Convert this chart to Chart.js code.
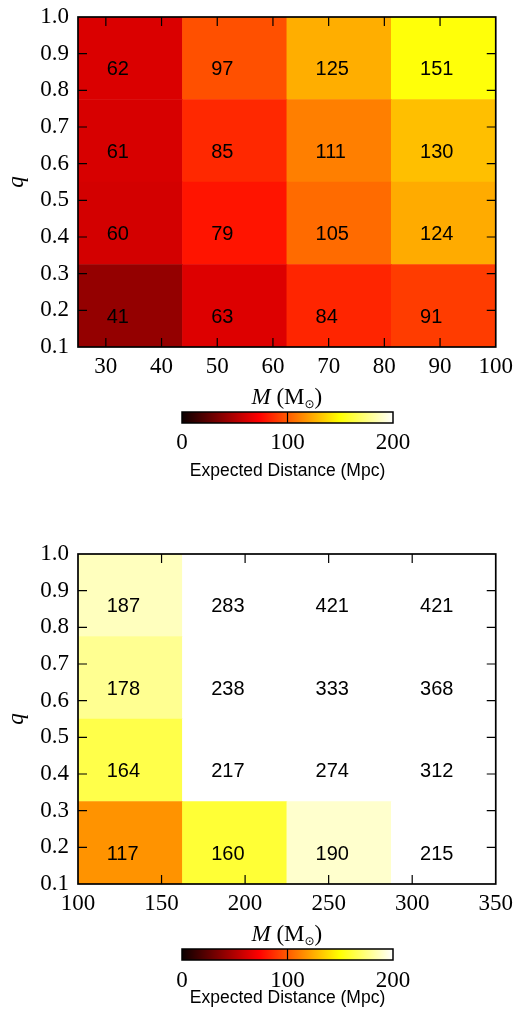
<!DOCTYPE html>
<html><head><meta charset="utf-8">
<script src="https://cdn.jsdelivr.net/npm/chart.js@4.4.0/dist/chart.umd.min.js"></script>
<style>
html,body{margin:0;padding:0;background:#fff;}
#wrap{position:relative;width:519px;height:1015px;overflow:hidden;background:#fff;}
canvas{position:absolute;left:0;}
</style></head><body>
<div id="wrap">
<canvas id="topMap" width="519" height="410" style="top:0px"></canvas>
<canvas id="topBar" width="519" height="83" style="top:400px"></canvas>
<canvas id="botMap" width="519" height="410" style="top:537px"></canvas>
<canvas id="botBar" width="519" height="72" style="top:937px"></canvas>
</div>
<script>
// ---- data ----
const qEdges = [0.1, 0.325, 0.55, 0.775, 1.0];
const qTicks = [0.1, 0.2, 0.3, 0.4, 0.5, 0.6, 0.7, 0.8, 0.9, 1.0];

const topMassEdges = [25, 43.75, 62.5, 81.25, 100];
const topMassTicks = [30, 40, 50, 60, 70, 80, 90, 100];
const topDistQ1 = [41, 63, 84, 91];
const topDistQ2 = [60, 79, 105, 124];
const topDistQ3 = [61, 85, 111, 130];
const topDistQ4 = [62, 97, 125, 151];

const botMassEdges = [100, 162.5, 225, 287.5, 350];
const botMassTicks = [100, 150, 200, 250, 300, 350];
const botDistQ1 = [117, 160, 190, 215];
const botDistQ2 = [164, 217, 274, 312];
const botDistQ3 = [178, 238, 333, 368];
const botDistQ4 = [187, 283, 421, 421];

const cbRange = [0, 200];
const cbTicks = [0, 100, 200];

// ---- colormap (matplotlib "hot") ----
const hotStops = [[0, [0.0416, 0, 0]], [0.365079, [1, 0, 0]], [0.746032, [1, 1, 0]], [1, [1, 1, 1]]];
function hotRGB(t) {
  t = Math.max(0, Math.min(1, t));
  for (let i = 1; i < hotStops.length; i++) {
    const [t0, c0] = hotStops[i - 1], [t1, c1] = hotStops[i];
    if (t <= t1) {
      const f = (t - t0) / (t1 - t0);
      return c0.map((c, k) => Math.round(255 * (c + (c1[k] - c) * f)));
    }
  }
  return [255, 255, 255];
}
function hotColor(v) {
  const [r, g, b] = hotRGB((v - cbRange[0]) / (cbRange[1] - cbRange[0]));
  return `rgb(${r},${g},${b})`;
}

const SERIF = '"Liberation Serif", "DejaVu Serif", serif';
const SANS = '"Liberation Sans", Arial, sans-serif';

// frame + inward ticks
const framePlugin = {
  id: 'frame',
  afterDraw(chart, args, opts) {
    const {ctx, chartArea: a} = chart;
    ctx.save();
    ctx.strokeStyle = '#000';
    if (opts.ticksX) {
      const sx = chart.scales[opts.xScale];
      ctx.lineWidth = 1.2;
      ctx.beginPath();
      opts.ticksX.forEach(v => {
        const px = sx.getPixelForValue(v);
        if (px <= a.left + 1 || px >= a.right - 1) return;
        if (opts.full) { ctx.moveTo(px, a.top); ctx.lineTo(px, a.bottom); }
        else {
          ctx.moveTo(px, a.bottom); ctx.lineTo(px, a.bottom - 9);
          ctx.moveTo(px, a.top); ctx.lineTo(px, a.top + 9);
        }
      });
      ctx.stroke();
    }
    if (opts.ticksY) {
      const sy = chart.scales.y;
      ctx.lineWidth = 1.2;
      ctx.beginPath();
      opts.ticksY.forEach(v => {
        const py = sy.getPixelForValue(v);
        if (py <= a.top + 1 || py >= a.bottom - 1) return;
        ctx.moveTo(a.left, py); ctx.lineTo(a.left + 9, py);
        ctx.moveTo(a.right, py); ctx.lineTo(a.right - 9, py);
      });
      ctx.stroke();
    }
    ctx.lineWidth = opts.lw || 1.7;
    ctx.strokeRect(a.left, a.top, a.right - a.left, a.bottom - a.top);
    ctx.restore();
  }
};

// cell value labels
const cellLabelPlugin = {
  id: 'cellLabels',
  afterDatasetsDraw(chart) {
    const {ctx} = chart;
    ctx.save();
    ctx.fillStyle = '#000';
    ctx.font = '20px ' + SANS;
    ctx.textAlign = 'left';
    ctx.textBaseline = 'alphabetic';
    chart.data.datasets.forEach((ds, r) => {
      const meta = chart.getDatasetMeta(r);
      meta.data.forEach((bar, i) => {
        const {x, y, base, width} = bar.getProps(['x', 'y', 'base', 'width'], true);
        const left = x - width / 2;
        const h = base - y;
        ctx.fillText(String(ds.dist[i]), left + 0.275 * width, base - 0.295 * h);
      });
    });
    ctx.restore();
  }
};

// x-axis title  M (M_sun)
const massTitlePlugin = {
  id: 'massTitle',
  afterDraw(chart) {
    const {ctx, chartArea: a} = chart;
    const parts = [
      {t: 'M', f: 'italic 23px ' + SERIF, dy: 0},
      {t: ' (M', f: '23px ' + SERIF, dy: 0},
      {t: '\u2299', f: '12px "DejaVu Sans", sans-serif', dy: 4},
      {t: ')', f: '23px ' + SERIF, dy: 0}
    ];
    ctx.save();
    ctx.fillStyle = '#000';
    ctx.textBaseline = 'alphabetic';
    ctx.textAlign = 'left';
    let total = 0;
    parts.forEach(p => { ctx.font = p.f; p.w = ctx.measureText(p.t).width; total += p.w; });
    let x = (a.left + a.right) / 2 - total / 2;
    const base = a.bottom + 57;
    parts.forEach(p => { ctx.font = p.f; ctx.fillText(p.t, x, base + p.dy); x += p.w; });
    ctx.restore();
  }
};

function heatmap(id, massEdges, massTicks, rows) {
  const labels = massEdges.slice(0, -1).map((m, i) => m + '\u2013' + massEdges[i + 1]);
  const datasets = rows.map((vals, r) => ({
    label: 'q ' + qEdges[r] + '\u2013' + qEdges[r + 1],
    data: vals.map(() => [qEdges[r], qEdges[r + 1]]),
    dist: vals,
    backgroundColor: vals.map(hotColor),
    borderWidth: 0,
    grouped: false,
    barPercentage: 1,
    categoryPercentage: 1
  }));
  return new Chart(document.getElementById(id), {
    type: 'bar',
    data: {labels, datasets},
    options: {
      responsive: false,
      animation: false,
      events: [],
      layout: {padding: {top: 17, right: 22, left: 0, bottom: 0}},
      plugins: {
        legend: {display: false},
        tooltip: {enabled: false},
        frame: {xScale: 'xm', ticksX: massTicks, ticksY: qTicks}
      },
      scales: {
        x: {type: 'category', display: false, offset: true},
        xm: {
          type: 'linear', position: 'bottom', offset: false,
          min: massEdges[0], max: massEdges[massEdges.length - 1],
          afterBuildTicks: s => { s.ticks = massTicks.map(v => ({value: v})); },
          afterFit: s => { s.height = 63; },
          grid: {display: false, drawTicks: false, offset: false},
          border: {display: false},
          ticks: {color: '#000', font: {family: SERIF, size: 23}, padding: 6, maxRotation: 0, autoSkip: false}
        },
        y: {
          type: 'linear', min: qEdges[0], max: qEdges[qEdges.length - 1],
          afterBuildTicks: s => { s.ticks = qTicks.map(v => ({value: v})); },
          afterFit: s => { s.width = 78; s.paddingTop = 0; s.paddingBottom = 0; },
          grid: {display: false, drawTicks: false},
          border: {display: false},
          ticks: {color: '#000', font: {family: SERIF, size: 23}, padding: 9, callback: v => Number(v).toFixed(1), autoSkip: false},
          title: {display: true, text: 'q', color: '#000', font: {family: SERIF, size: 23, style: 'italic'}, padding: {top: 3, bottom: 0}}
        }
      }
    },
    plugins: [framePlugin, cellLabelPlugin, massTitlePlugin]
  });
}

function colorbar(id, canvasH, tickPad, titlePad) {
  return new Chart(document.getElementById(id), {
    type: 'bar',
    data: {
      labels: ['Expected Distance (Mpc)'],
      datasets: [{
        data: [cbRange],
        backgroundColor: c => {
          const ca = c.chart.chartArea;
          if (!ca) return '#000';
          const g = c.chart.ctx.createLinearGradient(ca.left, 0, ca.right, 0);
          hotStops.forEach(([t, col]) => g.addColorStop(t, `rgb(${col.map(v => Math.round(v * 255)).join(',')})`));
          return g;
        },
        borderWidth: 0,
        barPercentage: 1,
        categoryPercentage: 1
      }]
    },
    options: {
      indexAxis: 'y',
      responsive: false,
      animation: false,
      events: [],
      layout: {padding: {left: 182, right: 126, top: 12, bottom: 0}},
      plugins: {
        legend: {display: false},
        tooltip: {enabled: false},
        frame: {xScale: 'x', ticksX: cbTicks, full: true, lw: 1.5}
      },
      scales: {
        y: {display: false},
        x: {
          type: 'linear', min: cbRange[0], max: cbRange[1],
          afterBuildTicks: s => { s.ticks = cbTicks.map(v => ({value: v})); },
          afterFit: s => { s.height = canvasH - 12 - 11; },
          grid: {display: false, drawTicks: false},
          border: {display: false},
          ticks: {color: '#000', font: {family: SERIF, size: 23}, padding: tickPad, maxRotation: 0, autoSkip: false},
          title: {display: true, text: 'Expected Distance (Mpc)', color: '#000', font: {family: SANS, size: 17.5}, padding: {top: 0, bottom: titlePad}}
        }
      }
    },
    plugins: [framePlugin]
  });
}

heatmap('topMap', topMassEdges, topMassTicks, [topDistQ1, topDistQ2, topDistQ3, topDistQ4]);
colorbar('topBar', 83, 6, 1);
heatmap('botMap', botMassEdges, botMassTicks, [botDistQ1, botDistQ2, botDistQ3, botDistQ4]);
colorbar('botBar', 72, 7, 0);
</script>
</body></html>
